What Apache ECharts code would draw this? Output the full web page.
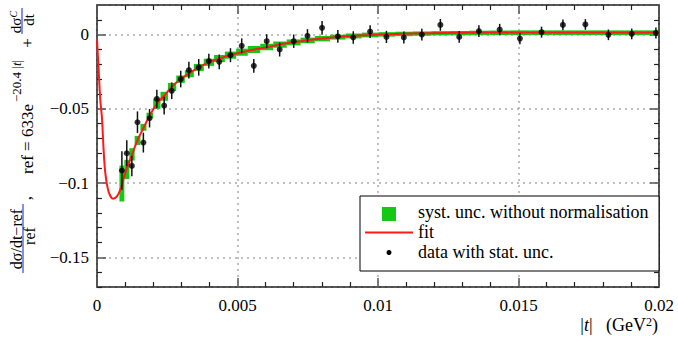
<!DOCTYPE html>
<html><head><meta charset="utf-8">
<script src="https://cdn.jsdelivr.net/npm/echarts@6/dist/echarts.min.js"></script>
<style>html,body{margin:0;padding:0;background:#fff}#c{width:678px;height:337px}</style>
</head><body><div id="c"></div>
<script>
// |t| bin centres (GeV^2)
const tVals = [0.000886, 0.00106, 0.00124, 0.00144, 0.00165, 0.00187, 0.00213, 0.00239, 0.00266, 0.00298,
  0.00327, 0.00362, 0.00398, 0.00435, 0.00475, 0.00515, 0.00558, 0.00604, 0.0065, 0.0070,
  0.00749, 0.00801, 0.00857, 0.00912, 0.00972, 0.0103, 0.01092, 0.01156, 0.01222, 0.01289,
  0.01359, 0.01433, 0.01505, 0.01582, 0.01658, 0.01738, 0.0182, 0.01903, 0.01989];
// data (relative difference)
const dataVals = [-0.0915, -0.0799, -0.0884, -0.059, -0.0727, -0.0563, -0.0433, -0.0478, -0.0378, -0.0299,
  -0.0239, -0.022, -0.0178, -0.0183, -0.0138, -0.0075, -0.021, -0.0044, -0.0100, -0.0044,
  -0.0008, 0.0046, -0.0012, -0.0019, 0.0021, -0.0015, -0.0019, 0.0, 0.0066, -0.0015,
  0.0024, 0.0035, -0.0026, 0.0017, 0.0066, 0.0069, -0.0001, 0.0005, 0.0012];
// statistical uncertainty
const statErr = [0.0129, 0.0087, 0.0069, 0.0073, 0.0067, 0.0062, 0.0062, 0.006, 0.0056, 0.0056,
  0.0056, 0.0056, 0.005, 0.005, 0.0047, 0.005, 0.0047, 0.0047, 0.0047, 0.0045,
  0.0045, 0.0046, 0.0043, 0.0042, 0.0043, 0.0041, 0.004, 0.004, 0.004, 0.0039,
  0.0039, 0.0038, 0.0038, 0.0037, 0.0036, 0.0036, 0.0036, 0.0036, 0.0037];
// systematic band (without normalisation), low / high edges
const systLo = [-0.1124, -0.0973, -0.0848, -0.0743, -0.0647, -0.0563, -0.0500, -0.0445, -0.0380, -0.0325,
  -0.0287, -0.0245, -0.0210, -0.0185, -0.0162, -0.0142, -0.0123, -0.0105, -0.0088, -0.0072,
  -0.0058, -0.0045, -0.0033, -0.0025, -0.0018, -0.0013, -0.0010, -0.0007, -0.0005, -0.0004,
  -0.0003, -0.0002, -0.0002, -0.0002, -0.0002, -0.0002, -0.0002, -0.0002, -0.0002];
const systHi = [-0.0882, -0.0843, -0.0765, -0.0682, -0.0601, -0.0526, -0.0430, -0.0385, -0.0325, -0.0275,
  -0.0240, -0.0197, -0.0162, -0.0137, -0.0114, -0.0094, -0.0077, -0.0061, -0.0046, -0.0032,
  -0.0020, -0.0009, 0.0000, 0.0008, 0.0014, 0.0017, 0.0020, 0.0022, 0.0024, 0.0025,
  0.0027, 0.0028, 0.0029, 0.0029, 0.0029, 0.0029, 0.0029, 0.0029, 0.0029];
// fit curve
const fitT = [0, 0.00006, 0.000117, 0.000177, 0.000235, 0.000294, 0.00041, 0.00057, 0.00071, 0.00085,
  0.001, 0.00118, 0.00142, 0.00165, 0.00189, 0.00218, 0.00236, 0.00266, 0.00298, 0.00331,
  0.00366, 0.00402, 0.00437, 0.00473, 0.0052, 0.00567, 0.00626, 0.0065, 0.00686, 0.00768,
  0.00887, 0.01005, 0.01123, 0.0136, 0.016, 0.018, 0.02];
const fitVals = [-0.0032, -0.024, -0.044, -0.0563, -0.0776, -0.093, -0.1056, -0.1105, -0.109, -0.1034,
  -0.0933, -0.0843, -0.072, -0.063, -0.054, -0.0452, -0.0418, -0.0351, -0.0299, -0.0257,
  -0.0216, -0.0183, -0.016, -0.0138, -0.0116, -0.0097, -0.0077, -0.0066, -0.0055, -0.0032,
  -0.001, 0.0001, 0.0008, 0.0015, 0.0014, 0.0014, 0.0015];

const legendLabels = ['syst. unc. without normalisation', 'fit', 'data with stat. unc.'];

const FONT = 'Liberation Serif';
const GREEN = '#14c814';
const RED = '#ff1a1a';

const edges = [];
for (let i = 0; i <= tVals.length; i++) {
  if (i === 0) edges.push(tVals[0] - (tVals[1] - tVals[0]) / 2);
  else if (i === tVals.length) edges.push(tVals[i - 1] + (tVals[i - 1] - tVals[i - 2]) / 2);
  else edges.push((tVals[i - 1] + tVals[i]) / 2);
}
const systData = tVals.map((t, i) => [edges[i], edges[i + 1], systLo[i], systHi[i]]);
const errData = tVals.map((t, i) => [t, dataVals[i] - statErr[i], dataVals[i] + statErr[i]]);
const fitData = fitT.map((t, i) => [t, fitVals[i]]);
const pts = tVals.map((t, i) => [t, dataVals[i]]);

function fmt(v) {
  if (Math.abs(v) < 1e-12) return '0';
  let s = String(+v.toFixed(4));
  return s.replace('-', '\u2212');
}

function xAxisDef(pos, showLabel, showSplit) {
  return {
    type: 'value', position: pos, min: 0, max: 0.02, interval: 0.005,
    axisLine: { show: true, onZero: false, lineStyle: { color: '#222', width: 1.5 } },
    axisTick: { show: true, inside: true, length: 9, lineStyle: { color: '#555', width: 1.5 } },
    minorTick: { show: true, splitNumber: 5, length: 5, lineStyle: { color: '#222', width: 1.2 } },
    axisLabel: { show: showLabel, formatter: fmt, fontFamily: FONT, fontSize: 17, color: '#000', margin: 10 },
    splitLine: { show: showSplit, lineStyle: { color: '#aaa', type: [2, 4], width: 1.5 } }
  };
}
function yAxisDef(pos, showLabel, showSplit) {
  return {
    type: 'value', position: pos, min: -0.17, max: 0.02, splitNumber: 4, minInterval: 0.05, maxInterval: 0.05,
    axisLine: { show: true, onZero: false, lineStyle: { color: '#222', width: 1.5 } },
    axisTick: { show: true, inside: true, length: 9, lineStyle: { color: '#555', width: 1.5 } },
    minorTick: { show: true, splitNumber: 5, length: 5, lineStyle: { color: '#222', width: 1.2 } },
    axisLabel: { show: showLabel, formatter: fmt, fontFamily: FONT, fontSize: 17, color: '#000', margin: 8,
      showMinLabel: false, showMaxLabel: false },
    splitLine: { show: showSplit, lineStyle: { color: '#aaa', type: [2, 4], width: 1.5 } }
  };
}

const chart = echarts.init(document.getElementById('c'), null, { renderer: 'svg', width: 678, height: 337 });

const txt = (text, x, y, extra) => Object.assign({
  type: 'text', x: x, y: y, z: 100,
  style: Object.assign({ text: text, font: '18px "' + FONT + '"', fill: '#000', align: 'left', verticalAlign: 'middle' }, extra || {})
});

const option = {
  animation: false,
  backgroundColor: '#fff',
  grid: { left: 97, top: 5, width: 562, height: 282, containLabel: false },
  xAxis: [xAxisDef('bottom', true, true), xAxisDef('top', false, false)],
  yAxis: [yAxisDef('left', true, true), yAxisDef('right', false, false)],
  series: [
    {
      name: legendLabels[0], type: 'custom', clip: true, z: 2,
      encode: { x: [0, 1], y: [2, 3] },
      data: systData,
      renderItem: function (params, api) {
        const p1 = api.coord([api.value(0), api.value(3)]);
        const p2 = api.coord([api.value(1), api.value(2)]);
        return { type: 'rect', shape: { x: p1[0], y: p1[1], width: p2[0] - p1[0], height: p2[1] - p1[1] },
          style: { fill: GREEN } };
      }
    },
    {
      name: legendLabels[1], type: 'line', data: fitData, smooth: 0.3, showSymbol: false, symbol: 'none', z: 3,
      lineStyle: { color: RED, width: 2 }
    },
    {
      name: 'stat', type: 'custom', clip: true, z: 4,
      encode: { x: 0, y: [1, 2] },
      data: errData,
      renderItem: function (params, api) {
        const a = api.coord([api.value(0), api.value(1)]);
        const b = api.coord([api.value(0), api.value(2)]);
        return { type: 'line', shape: { x1: a[0], y1: a[1], x2: b[0], y2: b[1] },
          style: { stroke: '#111', lineWidth: 1.5 } };
      }
    },
    {
      name: legendLabels[2], type: 'scatter', data: pts, symbol: 'circle', symbolSize: 6, z: 5,
      itemStyle: { color: '#000' }
    }
  ],
  graphic: [
    // legend box
    { type: 'rect', z: 99, shape: { x: 360, y: 196, width: 299, height: 75 }, style: { fill: '#fff', stroke: '#000', lineWidth: 1 } },
    { type: 'rect', z: 100, shape: { x: 382, y: 207, width: 14, height: 14 }, style: { fill: GREEN } },
    { type: 'line', z: 100, shape: { x1: 365, y1: 232.5, x2: 413, y2: 232.5 }, style: { stroke: RED, lineWidth: 2 } },
    { type: 'circle', z: 100, shape: { cx: 389, cy: 252.5, r: 2.5 }, style: { fill: '#000' } },
    txt(legendLabels[0], 418, 212),
    txt(legendLabels[1], 418, 232),
    txt(legendLabels[2], 418, 252),
    // x axis title
    {
      type: 'text', z: 100, x: 658, y: 325,
      style: {
        text: '|{i|t}|   (GeV{s|2})', align: 'right', verticalAlign: 'middle',
        font: '18px "' + FONT + '"', fill: '#000',
        rich: {
          i: { fontFamily: FONT, fontSize: 18, fontStyle: 'italic' },
          s: { fontFamily: FONT, fontSize: 12, verticalAlign: 'top', lineHeight: 14 }
        }
      }
    },
    // y axis title (rotated)
    {
      type: 'group', x: 0, y: 290, rotation: Math.PI / 2,
      children: [
        { type: 'text', x: 51, y: 16, z: 100, style: { text: 'd\u03c3/dt\u2212ref', font: '16px "' + FONT + '"', fill: '#000', align: 'center', verticalAlign: 'middle' } },
        { type: 'line', z: 100, shape: { x1: 17, y1: 23, x2: 86, y2: 23 }, style: { stroke: '#5a6ee0', lineWidth: 1.5 } },
        { type: 'text', x: 54, y: 29.5, z: 100, style: { text: 'ref', font: '16px "' + FONT + '"', fill: '#000', align: 'center', verticalAlign: 'middle' } },
        { type: 'text', x: 92, y: 25, z: 100, style: { text: ',', font: '17px "' + FONT + '"', fill: '#000', align: 'center', verticalAlign: 'middle' } },
        { type: 'text', x: 116, y: 27, z: 100, style: { text: 'ref = 633e', font: '17px "' + FONT + '"', fill: '#000', align: 'left', verticalAlign: 'middle' } },
        { type: 'text', x: 188, y: 16, z: 100, style: {
            text: '\u221220.4 |{i|t}|', font: '13px "' + FONT + '"', fill: '#000', align: 'left', verticalAlign: 'middle',
            rich: { i: { fontFamily: FONT, fontSize: 13, fontStyle: 'italic' } } } },
        { type: 'text', x: 247, y: 27, z: 100, style: { text: '+', font: '17px "' + FONT + '"', fill: '#000', align: 'center', verticalAlign: 'middle' } },
        { type: 'text', x: 268, y: 15.5, z: 100, style: {
            text: 'd\u03c3{s|C}', font: '15px "' + FONT + '"', fill: '#000', align: 'center', verticalAlign: 'middle',
            rich: { s: { fontFamily: FONT, fontSize: 10, fontStyle: 'italic', verticalAlign: 'top', lineHeight: 10 } } } },
        { type: 'line', z: 100, shape: { x1: 256, y1: 22, x2: 282, y2: 22 }, style: { stroke: '#5a6ee0', lineWidth: 1.5 } },
        { type: 'text', x: 270, y: 29, z: 100, style: { text: 'dt', font: '15px "' + FONT + '"', fill: '#000', align: 'center', verticalAlign: 'middle' } }
      ]
    }
  ]
};
chart.setOption(option);
</script>
</body></html>
